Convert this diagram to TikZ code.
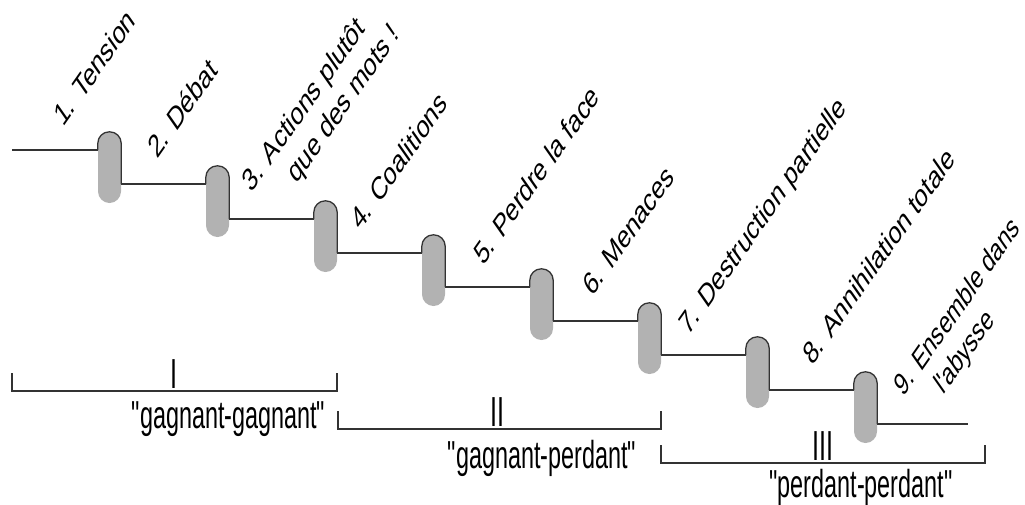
\documentclass[tikz,border=0pt]{standalone}
\usepackage{fontspec}
\setmainfont{Liberation Sans}
\usetikzlibrary{positioning}

\begin{document}
\begin{tikzpicture}[x=1pt,y=1pt,
  capsule/.style={rectangle,fill=gray!60,minimum width=23pt,minimum height=71pt,
    rounded corners=11.5pt,inner sep=0pt},
  stair/.style={draw=black!80,line width=1.3pt},
  capline/.style={stair,rounded corners=11.5pt},
  brk/.style={draw=black!80,line width=1.1pt},
  steplbl/.style={font=\fontsize{32}{39}\selectfont,xscale=0.7,rotate=45,
    anchor=base west,inner sep=0pt,align=left},
  phase/.style={font=\fontsize{39}{46}\selectfont,xscale=0.6,anchor=base,inner sep=0pt},
  numeral/.style={font=\fontsize{42}{46}\selectfont,xscale=0.6,anchor=base,inner sep=0pt}
]
  \useasboundingbox (0,0) rectangle (1025,-504);

  % Step levels
  \coordinate (l1) at (0,-150);
  \coordinate (l2) at (0,-184);
  \coordinate (l3) at (0,-219);
  \coordinate (l4) at (0,-253);
  \coordinate (l5) at (0,-287);
  \coordinate (l6) at (0,-321);
  \coordinate (l7) at (0,-355);
  \coordinate (l8) at (0,-390);
  \coordinate (l9) at (0,-424);
  \coordinate (start) at (12,-150);
  \coordinate (fin) at (968,-424);

  % Capsules
  \node[capsule] (c1) at (109.5,-167.5) {};
  \node[capsule] (c2) at (217.5,-201.5) {};
  \node[capsule] (c3) at (325.5,-236.5) {};
  \node[capsule] (c4) at (433.5,-270.5) {};
  \node[capsule] (c5) at (541.5,-304.5) {};
  \node[capsule] (c6) at (649.5,-338.5) {};
  \node[capsule] (c7) at (757.5,-372.5) {};
  \node[capsule] (c8) at (865.5,-407.5) {};

  % Capsule outlines
  \draw[capline] (c1.west |- l1) -- (c1.north west) -- (c1.north east) -- (c1.east |- l2);
  \draw[capline] (c2.west |- l2) -- (c2.north west) -- (c2.north east) -- (c2.east |- l3);
  \draw[capline] (c3.west |- l3) -- (c3.north west) -- (c3.north east) -- (c3.east |- l4);
  \draw[capline] (c4.west |- l4) -- (c4.north west) -- (c4.north east) -- (c4.east |- l5);
  \draw[capline] (c5.west |- l5) -- (c5.north west) -- (c5.north east) -- (c5.east |- l6);
  \draw[capline] (c6.west |- l6) -- (c6.north west) -- (c6.north east) -- (c6.east |- l7);
  \draw[capline] (c7.west |- l7) -- (c7.north west) -- (c7.north east) -- (c7.east |- l8);
  \draw[capline] (c8.west |- l8) -- (c8.north west) -- (c8.north east) -- (c8.east |- l9);

  % Steps
  \draw[stair] (start) -- (c1.west |- l1);
  \draw[stair] (c1.east |- l2) -- (c2.west |- l2);
  \draw[stair] (c2.east |- l3) -- (c3.west |- l3);
  \draw[stair] (c3.east |- l4) -- (c4.west |- l4);
  \draw[stair] (c4.east |- l5) -- (c5.west |- l5);
  \draw[stair] (c5.east |- l6) -- (c6.west |- l6);
  \draw[stair] (c6.east |- l7) -- (c7.west |- l7);
  \draw[stair] (c7.east |- l8) -- (c8.west |- l8);
  \draw[stair] (c8.east |- l9) -- (fin);

  % Stage labels (two-line ones anchored on their last line)
  \node[steplbl] (t1) at (63,-128) {1. Tension};
  \node[steplbl] (t2) at (157,-160) {2. Débat};
  \node[steplbl] (t3) at (271,-221) {3. Actions plutôt\\\hspace*{1.6em}que des mots !};
  \node[steplbl] (t4) at (360,-232) {4. Coalitions};
  \node[steplbl] (t5) at (483,-267) {5. Perdre la face};
  \node[steplbl] (t6) at (592,-298) {6. Menaces};
  \node[steplbl] (t7) at (688,-337) {7. Destruction partielle};
  \node[steplbl] (t8) at (812,-367) {8. Annihilation totale};
  \node[steplbl,xscale=0.64/0.7] (t9) at (923,-425) {9. Ensemble dans\\\hspace*{1.4em}l\textquotesingle abysse};

  % Phase brackets
  \draw[brk] (12,-373) -- (12,-391) -- (337,-391) -- (337,-373);
  \draw[brk] (338,-411) -- (338,-429) -- (661,-429) -- (661,-411);
  \draw[brk] (661,-445) -- (661,-463) -- (985,-463) -- (985,-445);

  \node[numeral] (n1) at (174,-388) {I};
  \node[numeral] (n2) at (497,-426) {II};
  \node[numeral] (n3) at (823,-460) {III};

  \node[phase] (ph1) at (228.5,-428) {\textquotedbl gagnant-gagnant\textquotedbl};
  \node[phase] (ph2) at (542,-468) {\textquotedbl gagnant-perdant\textquotedbl};
  \node[phase] (ph3) at (861,-497) {\textquotedbl perdant-perdant\textquotedbl};
\end{tikzpicture}
\end{document}
